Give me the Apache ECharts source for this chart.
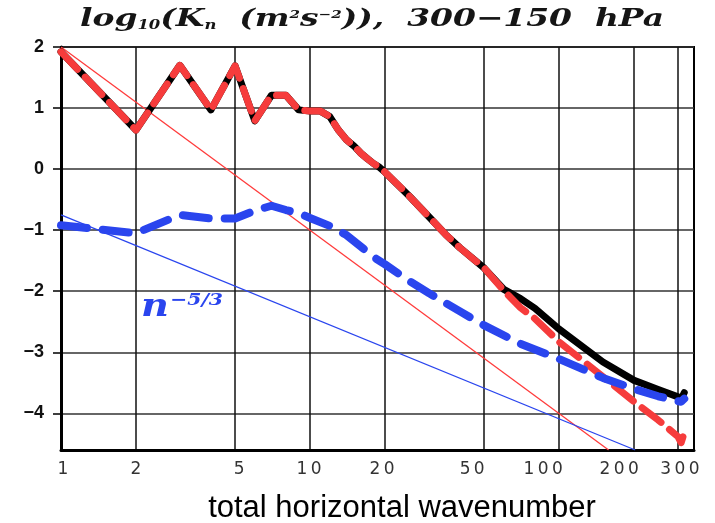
<!DOCTYPE html>
<html>
<head>
<meta charset="utf-8">
<script src="https://cdn.jsdelivr.net/npm/echarts@6/dist/echarts.min.js"></script>
<style>
  html, body { margin: 0; padding: 0; background: #fff; }
  #chart { width: 715px; height: 523px; }
</style>
</head>
<body>
<div id="chart"></div>
<script>
// wavenumbers and log10 spectra
const nKE = [1, 2, 3, 4, 5, 6, 7, 8, 9, 10, 11, 12, 13, 14, 15, 16, 17, 18, 19, 20,
  25, 30, 35, 40, 50, 60, 70, 80, 100, 150, 200, 250, 300, 309, 318]
const totalKE = [1.92, 0.64, 1.70, 0.97, 1.69, 0.79, 1.21, 1.21, 0.97, 0.95, 0.95, 0.86, 0.64, 0.48, 0.38, 0.26, 0.17, 0.09, 0.03, -0.05,
  -0.44, -0.78, -1.07, -1.29, -1.62, -1.97, -2.12, -2.28, -2.62, -3.16, -3.46, -3.61, -3.73, -3.77, -3.66]
const rotKE = [1.92, 0.64, 1.70, 0.97, 1.69, 0.79, 1.21, 1.21, 0.97, 0.95, 0.95, 0.86, 0.64, 0.48, 0.38, 0.26, 0.17, 0.09, 0.03, -0.05,
  -0.44, -0.78, -1.07, -1.29, -1.62, -1.99, -2.27, -2.45, -2.83, -3.40, -3.81, -4.11, -4.38, -4.48, -4.32]

const nDiv = [1, 2, 3, 4, 5, 6, 7, 8, 9, 10, 12, 14, 16, 18, 20, 25, 30, 40, 50, 70, 100, 150, 200, 250, 300, 309, 318]
const divKE = [-0.92, -1.05, -0.75, -0.81, -0.81, -0.68, -0.60, -0.67, -0.72, -0.80, -0.93, -1.08, -1.27, -1.44, -1.56, -1.83, -2.03, -2.33, -2.56, -2.86, -3.11, -3.42, -3.60, -3.72, -3.80, -3.81, -3.76]

// reference slopes n^-3 and n^-5/3
const slope3 = [[1, 2.0], [158, -4.6]]
const slope53 = [[1, -0.75], [202, -4.6]]

const xTicks = [1, 2, 5, 10, 20, 50, 100, 200, 300]
const yTicks = [-4, -3, -2, -1, 0, 1, 2]

const pairs = (xs, ys) => xs.map((x, i) => [x, ys[i]])

const chart = echarts.init(document.getElementById('chart'))

// small nudges so the x labels sit where the original put them
const labelShift = { 1: 2, 5: 4, 10: -1, 20: -3, 50: -12, 100: -16, 200: -15, 300: 2 }

const labelRich = {}
xTicks.forEach((k, i) => {
  const sh = labelShift[k] || 0
  labelRich['a' + i] = {
    fontFamily: 'DejaVu Sans', fontSize: 17, color: '#333',
    padding: sh < 0 ? [0, -2 * sh, 0, 0] : [0, 0, 0, 2 * sh]
  }
})

const serif = { fontFamily: 'DejaVu Serif', fontStyle: 'italic', fontWeight: 'bold', fill: '#151515' }

chart.setOption({
  animation: false,
  backgroundColor: '#ffffff',
  grid: {
    left: 61, right: 21, top: 47, bottom: 73,
    show: true, borderColor: '#000', borderWidth: 2,
    containLabel: false, outerBoundsMode: 'none'
  },
  xAxis: {
    type: 'log',
    logBase: 10,
    min: 1,
    max: 348,
    name: 'total horizontal wavenumber',
    nameLocation: 'middle',
    nameGap: 43,
    nameTextStyle: { fontFamily: 'Liberation Sans', fontSize: 31, color: '#000', padding: [0, 0, 0, 49] },
    axisLine: { show: true, onZero: false, lineStyle: { color: '#000', width: 3 } },
    axisTick: { show: false, customValues: xTicks },
    axisLabel: {
      customValues: xTicks,
      margin: 11,
      formatter: v => {
        const k = Math.round(v)
        return '{a' + xTicks.indexOf(k) + '|' + String(k).split('').join('\u2009') + '}'
      },
      rich: labelRich
    },
    splitLine: { show: true, lineStyle: { color: '#111', width: 1.5 } }
  },
  yAxis: {
    type: 'value',
    min: -4.6,
    max: 2,
    axisLine: { show: true, onZero: false, lineStyle: { color: '#000', width: 3 } },
    axisTick: { show: true, length: 8, customValues: yTicks, lineStyle: { color: '#000', width: 1.5 } },
    axisLabel: {
      customValues: yTicks,
      margin: 17,
      fontFamily: 'Liberation Sans',
      fontWeight: 'bold',
      fontSize: 18,
      color: '#111',
      formatter: v => String(Math.round(v)).replace('-', '\u2212')
    },
    splitLine: { show: true, lineStyle: { color: '#333', width: 1.5 } }
  },
  graphic: [
    {
      // title, stretched a little to match the wide original typeface
      type: 'text',
      x: 80,
      y: 20,
      scaleX: 1.37,
      style: {
        text: '{i|log}{s|10}{i|(K}{s|n}{i|  (m}{p|2}{i|s}{p|−2}{i|)),  300−150  hPa}',
        verticalAlign: 'middle',
        rich: {
          i: { ...serif, fontSize: 24, lineHeight: 30, verticalAlign: 'middle' },
          s: { ...serif, fontSize: 12, verticalAlign: 'bottom', padding: [0, 0, 3, 0] },
          p: { ...serif, fontSize: 11, verticalAlign: 'top', padding: [5, 0, 0, 0] }
        }
      }
    },
    {
      type: 'text',
      x: 141,
      y: 292,
      scaleX: 1.2,
      style: {
        text: '{n|n}{e|−5/3}',
        rich: {
          n: { fontFamily: 'DejaVu Serif', fontStyle: 'italic', fontWeight: 'bold', fontSize: 32, fill: '#2a45ee', verticalAlign: 'bottom' },
          e: { fontFamily: 'DejaVu Serif', fontStyle: 'italic', fontWeight: 'bold', fontSize: 17, fill: '#2a45ee', verticalAlign: 'top', padding: [0, 0, 0, 1] }
        }
      }
    }
  ],
  series: [
    {
      name: 'n^-3',
      type: 'line',
      data: slope3,
      showSymbol: false,
      lineStyle: { color: '#ff3b3b', width: 1.3 }
    },
    {
      name: 'n^-5/3',
      type: 'line',
      data: slope53,
      showSymbol: false,
      lineStyle: { color: '#2a45ee', width: 1.3 }
    },
    {
      name: 'total',
      type: 'line',
      data: pairs(nKE, totalKE),
      showSymbol: false,
      lineStyle: { color: '#000', width: 7, cap: 'round', join: 'round' }
    },
    {
      name: 'rotational',
      type: 'line',
      data: pairs(nKE, rotKE),
      showSymbol: false,
      lineStyle: { color: '#f63c3c', width: 7, type: [24, 11], cap: 'round', join: 'round' }
    },
    {
      name: 'divergent',
      type: 'line',
      data: pairs(nDiv, divKE),
      showSymbol: false,
      lineStyle: { color: '#2a45ee', width: 8, type: [26, 16], cap: 'round', join: 'round' }
    }
  ]
})
</script>
</body>
</html>
